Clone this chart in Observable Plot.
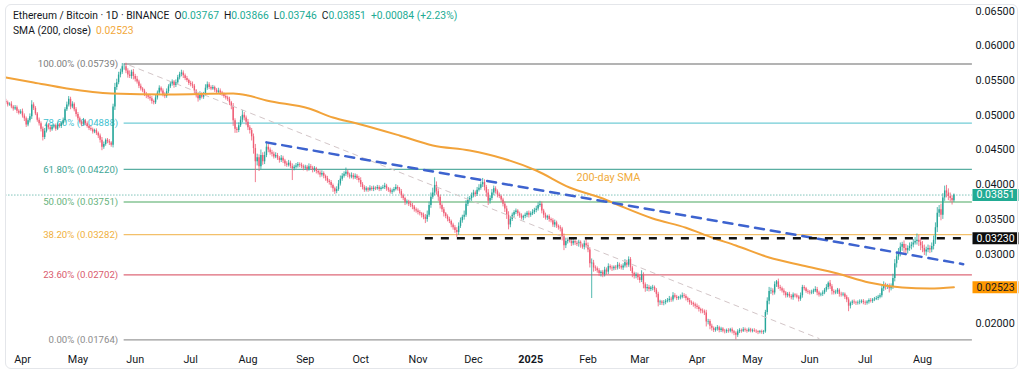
<!DOCTYPE html>
<html>
<head>
<meta charset="utf-8">
<script src="https://cdn.jsdelivr.net/npm/d3@7"></script>
<script src="https://cdn.jsdelivr.net/npm/@observablehq/plot@0.6"></script>
<style>
  html, body { margin: 0; padding: 0; background: #ffffff; }
  #wrap { position: relative; width: 1024px; height: 374px; overflow: hidden; font-family: Roboto, "Liberation Sans", sans-serif; }
  #border { position: absolute; left: 5px; top: 4px; width: 1013px; height: 365px; border: 1px solid #e4e6ea; border-radius: 6px; box-sizing: border-box; pointer-events: none; }
  #legend { position: absolute; left: 13px; top: 8px; font-size: 10.3px; line-height: 15px; color: #131722; white-space: nowrap; }
  #legend .v { color: #22ab94; }
  #legend .gap { margin-left: 5px; }
  #legend .sma { color: #f2a83b; margin-left: 5px; }
  #chart { position: absolute; left: 0; top: 0; }
</style>
</head>
<body>
<div id="wrap">
  <div id="chart"></div>
  <div id="border"></div>
  <div id="legend"></div>
</div>
<script>
// ---------------- DATA ----------------
// Daily closes of ETH/BTC, in units of 0.00001 (one array per month)
const close_2024_03 = [5180,5150,5160,5120,5090,5110,5060,5030,5050];
const close_2024_04 = [4990,4950,4860,4920,4980,5150,5100,5020,4930,4880, 4800,4680,4770,4860,4820,4790,4830,4850,4800,4860, 4840,4880,4920,5080,5150,5230,5120,5160,5080,5010];
const close_2024_05 = [4950,4900,4870,4920,4880,4840,4810,4790,4760,4780, 4740,4700,4640,4540,4580,4640,4620,4600,4570,5120, 5400,5470,5580,5620,5700,5700,5640,5580,5560,5620, 5560];
const close_2024_06 = [5520,5480,5420,5380,5350,5300,5280,5260,5240,5200, 5180,5250,5320,5390,5350,5300,5270,5340,5410,5450, 5480,5430,5470,5540,5590,5610,5570,5530,5500,5460];
const close_2024_07 = [5440,5420,5350,5280,5240,5300,5260,5300,5390,5440, 5400,5380,5400,5360,5330,5350,5320,5300,5270,5250, 5230,5180,5130,4920,4800,4780,4850,4930,5000,4960, 4900];
const close_2024_08 = [4820,4780,4690,4520,4330,4390,4260,4420,4330,4420, 4540,4500,4460,4440,4400,4420,4380,4350,4380,4340, 4300,4280,4310,4260,4230,4250,4270,4290,4280,4260, 4240];
const close_2024_09 = [4250,4220,4260,4240,4210,4230,4190,4170,4140,4160, 4120,4090,4050,4030,3990,3940,3900,3930,4010,4080, 4120,4150,4180,4140,4110,4130,4100,4120,4090,4060];
const close_2024_10 = [4000,3960,3920,3940,3920,3950,3930,3950,3940,3960, 3930,3950,3960,3980,3940,3920,3890,3910,3930,3960, 3940,3900,3840,3800,3740,3750,3720,3700,3680,3640, 3620];
const close_2024_11 = [3600,3580,3560,3530,3500,3560,3700,3820,3880,3990, 3900,3820,3700,3640,3580,3540,3500,3470,3420,3380, 3340,3310,3400,3480,3530,3560,3720,3780,3800,3840];
const close_2024_12 = [3880,3860,3920,3950,4000,4030,3960,3880,3760,3800, 3880,3940,3900,3850,3830,3780,3720,3650,3560,3420, 3500,3560,3600,3620,3580,3550,3520,3540,3560,3590, 3560];
const close_2025_01 = [3580,3600,3630,3650,3700,3720,3620,3560,3520,3540, 3500,3480,3420,3450,3400,3380,3360,3250,3120,3180, 3200,3190,3150,3180,3160,3140,3170,3120,3100,3150, 3120];
const close_2025_02 = [3060,2860,2870,2800,2790,2760,2720,2740,2700,2770, 2740,2820,2800,2790,2810,2800,2840,2820,2800,2830, 2880,2840,2920,2800,2720,2680,2700,2660];
const close_2025_03 = [2620,2700,2560,2500,2520,2490,2510,2520,2480,2420, 2300,2310,2290,2300,2320,2330,2350,2340,2400,2380, 2360,2370,2380,2400,2390,2360,2330,2300,2290,2270, 2250];
const close_2025_04 = [2230,2200,2180,2170,2150,2020,2030,1960,1930,1900, 1920,1940,1900,1920,1890,1880,1900,1890,1910,1880, 1860,1830,1880,1900,1890,1910,1900,1890,1910,1890];
const close_2025_05 = [1900,1890,1880,1870,1880,1870,1880,2160,2320,2460, 2470,2440,2560,2600,2520,2500,2470,2440,2400,2420, 2390,2370,2410,2400,2380,2350,2400,2520,2500,2460, 2450];
const close_2025_06 = [2440,2450,2470,2490,2440,2410,2420,2440,2480,2520, 2580,2530,2460,2440,2450,2480,2420,2410,2420,2380, 2340,2250,2290,2310,2300,2290,2300,2310,2320,2300];
const close_2025_07 = [2290,2310,2330,2320,2340,2350,2360,2380,2400,2500, 2550,2530,2540,2500,2530,2650,2860,2960,3000,3100, 3140,3080,3050,3080,3110,3130,3160,3180,3200,3170, 3120];
const close_2025_08 = [3080,3030,3060,3080,3060,3110,3200,3380,3590,3640, 3560,3810,3910,3880,3830,3800,3767,3851];

const monthStarts = ["2024-03-23","2024-04-01","2024-05-01","2024-06-01","2024-07-01","2024-08-01","2024-09-01","2024-10-01","2024-11-01","2024-12-01","2025-01-01","2025-02-01","2025-03-01","2025-04-01","2025-05-01","2025-06-01","2025-07-01","2025-08-01"];
const monthCloses = [close_2024_03,close_2024_04,close_2024_05,close_2024_06,close_2024_07,close_2024_08,close_2024_09,close_2024_10,close_2024_11,close_2024_12,close_2025_01,close_2025_02,close_2025_03,close_2025_04,close_2025_05,close_2025_06,close_2025_07,close_2025_08];
const firstOpen = 5200;

// Upper / lower wick lengths beyond the candle body (units of 0.00001), one line per month
const wickUp = [
 30,25,20,35,20,30,25,20,30,
 40,30,25,30,40,60,30,25,20,30, 25,30,40,30,20,25,30,20,25,30, 20,25,40,30,40,40,30,35,20,30,
 30,25,20,35,20,25,20,30,25,20, 25,20,30,40,35,20,25,30,20,40, 60,50,40,45,46,40,50,30,60,30, 40,
 30,40,25,30,20,25,30,20,25,30, 20,40,30,35,20,30,25,40,30,35, 30,20,40,35,30,40,30,25,30,20,
 30,40,25,20,30,40,25,30,50,40, 30,25,30,20,25,40,30,25,20,30, 25,30,20,40,30,25,40,50,70,40, 30,
 40,30,30,40,60,50,40,80,40,50, 70,40,30,35,30,40,30,25,40,30, 25,30,40,30,40,30,35,30,25,30, 25,
 30,25,40,30,25,30,20,25,30,40, 25,20,30,25,30,20,25,40,50,45, 40,35,60,30,25,40,30,35,25,30,
 40,30,25,30,20,35,25,30,20,30, 25,20,30,40,25,20,30,25,30,40, 25,20,30,25,20,30,25,40,30,20, 25,
 30,25,20,30,40,60,50,60,70,110, 50,40,30,25,30,20,25,30,20,25, 30,40,50,40,30,60,50,40,30,40,
 40,30,40,50,40,60,40,30,50,40, 50,40,30,25,30,20,25,30,40,50, 40,30,25,30,20,25,30,20,30,25, 30,
 30,40,30,40,40,40,30,25,30,20, 25,20,30,40,25,20,30,25,40,50, 30,25,30,35,20,25,30,20,25,40, 90,
 40,30,60,40,30,25,30,20,25,40, 30,40,25,30,20,25,40,30,25,30, 40,30,40,30,25,20,30,25,
 40,60,30,25,40,30,25,30,20,25, 30,25,20,30,25,30,40,30,45,30, 25,20,30,40,30,25,20,30,25,20, 25,
 30,25,20,30,25,40,30,25,30,20, 25,30,20,25,20,25,20,25,20,25, 20,20,30,25,20,30,25,20,25,20,
 20,25,20,15,20,25,20,30,50,60, 40,30,40,20,40,30,25,30,20,25, 30,25,30,20,25,20,40,30,25,20, 25,
 25,30,25,40,30,25,20,30,25,40, 20,40,30,25,30,25,20,30,25,20, 25,30,20,25,30,20,25,30,20,25,
 25,20,25,30,20,25,30,25,30,40, 50,30,25,30,40,60,60,50,80,60, 30,50,60,40,50,40,50,60,90,70, 60,
 60,50,40,50,40,50,60,70,80,60, 80,60,70,80,60,50,40,15
];
const wickDown = [
 25,30,20,25,30,20,35,25,20,
 30,40,35,25,30,40,30,25,30,35, 40,50,30,25,30,35,20,25,30,20, 25,30,20,30,25,30,40,25,30,35,
 30,25,35,20,30,25,30,20,30,25, 30,35,40,50,30,25,30,35,30,40, 50,40,30,40,30,50,40,45,30,40, 50,
 40,30,35,30,25,30,40,30,35,40, 30,25,30,20,30,35,30,25,30,25, 30,40,30,25,30,35,40,30,25,30,
 30,35,40,30,50,30,25,30,25,30, 30,25,20,30,25,30,35,30,25,30, 30,40,50,80,60,40,30,25,40,40, 50,
 40,50,60,80,300,60,70,40,50,40, 30,40,35,40,30,25,30,40,30,35, 40,30,25,30,170,30,25,30,35,30, 40,
 30,35,25,30,40,30,35,30,40,30, 35,40,30,35,40,50,40,30,25,30, 30,25,30,40,30,25,30,25,30,35,
 40,35,30,25,30,20,25,30,25,20, 30,25,20,30,35,30,25,30,25,20, 30,35,40,30,40,30,35,30,40,35, 30,
 35,30,40,35,60,40,30,40,30,40, 50,60,50,40,45,30,35,30,40,35, 40,70,40,30,35,40,30,35,30,40,
 30,40,30,25,30,40,50,60,60,40, 30,40,35,40,30,35,40,50,60,70, 40,30,35,30,40,35,30,40,30,35, 40,
 30,25,30,35,30,25,40,45,30,35, 40,30,35,40,30,35,40,60,70,40, 35,30,40,30,35,30,40,35,30,40, 35,
 40,60,500,60,40,35,40,50,40,30, 40,35,30,40,30,35,30,40,30,35, 30,40,30,50,60,40,35,40,
 40,30,60,50,40,35,30,40,35,50, 60,40,30,35,30,25,30,35,30,25, 30,25,30,25,30,35,30,35,30,35, 40,
 30,35,40,30,35,70,40,50,40,30, 25,30,35,30,25,30,25,30,25,30, 35,66,30,25,30,20,25,30,20,25,
 25,20,25,30,20,25,30,20,40,50, 40,40,30,40,30,35,30,40,35,30, 25,30,35,30,25,40,30,35,30,25, 30,
 30,25,30,25,40,30,25,30,25,30, 35,40,50,30,25,30,40,30,25,35, 40,80,40,30,25,30,25,30,25,30,
 30,25,30,25,30,25,20,30,25,30, 40,50,40,60,30,40,50,60,50,40, 60,70,60,50,40,50,40,30,50,60, 70,
 60,50,60,40,50,40,50,60,70,60, 80,60,50,70,60,50,60,21
];

// 200-day SMA, read at points along the curve
const smaDates = ["2024-03-23","2024-04-07","2024-04-25","2024-05-19","2024-06-19","2024-07-24","2024-08-01","2024-08-11","2024-09-03","2024-09-16","2024-09-29","2024-10-22","2024-11-09","2024-11-29","2024-12-17","2025-01-04","2025-01-22","2025-02-09","2025-02-18","2025-03-08","2025-03-26","2025-04-09","2025-04-22","2025-05-10","2025-05-28","2025-06-16","2025-07-03","2025-07-21","2025-08-05","2025-08-18"];
const smaValues = [0.05545,0.05473,0.05386,0.05314,0.05300,0.05314,0.05285,0.05213,0.05098,0.04968,0.04882,0.04709,0.04565,0.04493,0.04378,0.04205,0.03960,0.03801,0.03700,0.03513,0.03380,0.03240,0.03124,0.02951,0.02836,0.02720,0.02591,0.02519,0.02504,0.02523];

// Fibonacci retracement
const fibPercents = ["100.00%","78.60%","61.80%","50.00%","38.20%","23.60%","0.00%"];
const fibValues = [0.05739,0.04888,0.04220,0.03751,0.03282,0.02702,0.01764];
const fibSpan = ["2024-05-26","2025-08-28"];

// Trend lines and levels
const blueTrendDates = ["2024-08-11","2025-08-23"];
const blueTrendValues = [0.04610,0.02855];
const grayTrendDates = ["2024-05-29","2025-06-06"];
const grayTrendValues = [0.05720,0.01784];
const supportLevel = 0.03230;
const supportSpan = ["2024-11-05","2025-08-25"];
const lastPriceSpan = ["2024-03-23","2025-08-28"];
const smaNote = {date: "2025-02-12", value: 0.04100, label: "200-day SMA"};

// Axis ticks and labels
const yTicks = [0.020,0.025,0.030,0.035,0.040,0.045,0.050,0.055,0.060,0.065];
const monthTicks = ["2024-04-01","2024-05-01","2024-06-01","2024-07-01","2024-08-01","2024-09-01","2024-10-01","2024-11-01","2024-12-01","2025-01-01","2025-02-01","2025-03-01","2025-04-01","2025-05-01","2025-06-01","2025-07-01","2025-08-01"];
const monthLabels = ["Apr","May","Jun","Jul","Aug","Sep","Oct","Nov","Dec","2025","Feb","Mar","Apr","May","Jun","Jul","Aug"];

// Price tags on the right axis
const tagValues = [0.03851,0.03230,0.02523];

// Legend
const symbolTitle = "Ethereum / Bitcoin · 1D · BINANCE";
const ohlcKeys = ["O","H","L","C"];
const ohlcValues = [0.03767,0.03866,0.03746,0.03851];
const changeText = "+0.00084 (+2.23%)";
const smaTitle = "SMA (200, close)";
const smaLast = 0.02523;

// ---------------- STYLES ----------------
const UP = "#26a69a", DOWN = "#ef5c74";
const fibLineColors = ["#9a9a9a","#72ccd6","#5aaea2","#86c495","#f3c06a","#de6878","#9a9a9a"];
const fibTextColors = ["#7d7d7d","#3fbfcf","#3da595","#68b37d","#f0b03c","#d95a6d","#8c8c8c"];
const tagBg = ["#22ab94","#0d0d0d","#ff9800"];
const tagFg = ["#ffffff","#ffffff","#131722"];

// ---------------- BUILD ----------------
const parse = d3.utcParse("%Y-%m-%d");
const candles = [];
{
  let prev = firstOpen, k = 0;
  monthCloses.forEach((arr, m) => {
    let d = parse(monthStarts[m]);
    arr.forEach(c => {
      const o = prev;
      candles.push({
        date: d,
        open: o / 1e5,
        close: c / 1e5,
        high: (Math.max(o, c) + (wickUp[k] ?? 0)) / 1e5,
        low: (Math.min(o, c) - (wickDown[k] ?? 0)) / 1e5,
        up: c >= o
      });
      prev = c; k++;
      d = d3.utcDay.offset(d, 1);
    });
  });
}
const sma = smaDates.map((d, i) => ({date: parse(d), value: smaValues[i]}));
const blueTrend = blueTrendDates.map((d, i) => ({date: parse(d), value: blueTrendValues[i]}));
const grayTrend = grayTrendDates.map((d, i) => ({date: parse(d), value: grayTrendValues[i]}));
const fibs = fibValues.map((v, i) => ({value: v, label: `${fibPercents[i]} (${v.toFixed(5)})`, line: fibLineColors[i], text: fibTextColors[i]}));
const ticksX = monthTicks.map((d, i) => ({date: parse(d), label: monthLabels[i], year: /^\d{4}$/.test(monthLabels[i])}));
const tags = tagValues.map((v, i) => ({value: v, bg: tagBg[i], fg: tagFg[i]}));
const fibStart = parse(fibSpan[0]), fibEnd = parse(fibSpan[1]);
const fmt5 = d3.format(".5f");

const tagSymbol = { draw(ctx) { ctx.moveTo(-23, -6); ctx.lineTo(23, -6); ctx.lineTo(23, 6); ctx.lineTo(-23, 6); ctx.closePath(); } };

const chart = Plot.plot({
  width: 1024,
  height: 374,
  marginTop: 0,
  marginLeft: 0,
  marginRight: 54,
  marginBottom: 20,
  style: {fontFamily: "Roboto, 'Liberation Sans', sans-serif", fontSize: "10.8px", color: "#131722", background: "transparent", overflow: "visible"},
  x: {type: "utc", domain: [parse("2024-04-01"), parse("2025-08-01")], range: [22, 922], label: null, axis: null},
  y: {type: "linear", domain: [0.02, 0.065], range: [323, 10.7], label: null},
  color: {type: "identity"},
  marks: [
    // Fibonacci levels
    Plot.ruleY(fibs, {y: "value", x1: () => fibStart, x2: () => fibEnd, stroke: "line", strokeWidth: 1.3}),
    Plot.text(fibs, {x: () => fibStart, y: "value", text: "label", fill: "text", textAnchor: "end", dx: -6, fontSize: 9.6}),
    // last price dotted line
    Plot.ruleY([ohlcValues[3]], {y: d => d, x1: () => parse(lastPriceSpan[0]), x2: () => parse(lastPriceSpan[1]), stroke: "#3fa597", strokeWidth: 1, strokeDasharray: "1,2"}),
    // candles
    Plot.ruleX(candles, {x: "date", y1: "low", y2: "high", stroke: d => d.up ? UP : DOWN, strokeWidth: 0.8}),
    Plot.ruleX(candles, {x: "date", y1: "open", y2: "close", stroke: d => d.up ? UP : DOWN, strokeWidth: 1.4}),
    // 200-day SMA
    Plot.line(sma, {x: "date", y: "value", stroke: "#f2a33a", strokeWidth: 2, curve: "monotone-x"}),
    // drawings
    Plot.line(grayTrend, {x: "date", y: "value", stroke: "#d3c6c8", strokeWidth: 1, strokeDasharray: "5,5"}),
    Plot.line(blueTrend, {x: "date", y: "value", stroke: "#3d63cf", strokeWidth: 2.5, strokeDasharray: "9,7"}),
    Plot.ruleY([supportLevel], {y: d => d, x1: () => parse(supportSpan[0]), x2: () => parse(supportSpan[1]), stroke: "#111111", strokeWidth: 2.5, strokeDasharray: "8,8"}),
    Plot.text([smaNote], {x: d => parse(d.date), y: "value", text: "label", fill: "#f0aa3a", fontSize: 10.8}),
    // axes
    Plot.axisY({anchor: "right", ticks: yTicks, tickSize: 0, tickPadding: 5, tickFormat: fmt5, label: null, fontSize: 10.8}),
    Plot.text(ticksX.filter(d => !d.year), {x: "date", text: "label", frameAnchor: "bottom", textAnchor: "middle", lineAnchor: "top", dy: 1, fontSize: 10.8}),
    Plot.text(ticksX.filter(d => d.year), {x: "date", text: "label", frameAnchor: "bottom", textAnchor: "middle", lineAnchor: "top", dy: 1, fontSize: 10.8, fontWeight: "bold"}),
    // price tags
    Plot.dot(tags, {y: "value", frameAnchor: "right", dx: 25, symbol: tagSymbol, fill: "bg", stroke: null, r: 5}),
    Plot.text(tags, {y: "value", frameAnchor: "right", dx: 25, textAnchor: "middle", lineAnchor: "middle", text: d => fmt5(d.value), fill: "fg", fontSize: 10.5})
  ]
});
document.getElementById("chart").appendChild(chart);

// legend
const legend = document.getElementById("legend");
const row1 = document.createElement("div");
row1.appendChild(document.createTextNode(symbolTitle));
ohlcKeys.forEach((k, i) => {
  const s = document.createElement("span");
  s.className = "gap";
  s.innerHTML = `${k}<span class="v">${ohlcValues[i].toFixed(5)}</span>`;
  row1.appendChild(s);
});
const ch = document.createElement("span");
ch.className = "gap v";
ch.textContent = changeText;
row1.appendChild(ch);
legend.appendChild(row1);
const row2 = document.createElement("div");
row2.appendChild(document.createTextNode(smaTitle));
const sv = document.createElement("span");
sv.className = "sma";
sv.textContent = smaLast.toFixed(5);
row2.appendChild(sv);
legend.appendChild(row2);
</script>
</body>
</html>
